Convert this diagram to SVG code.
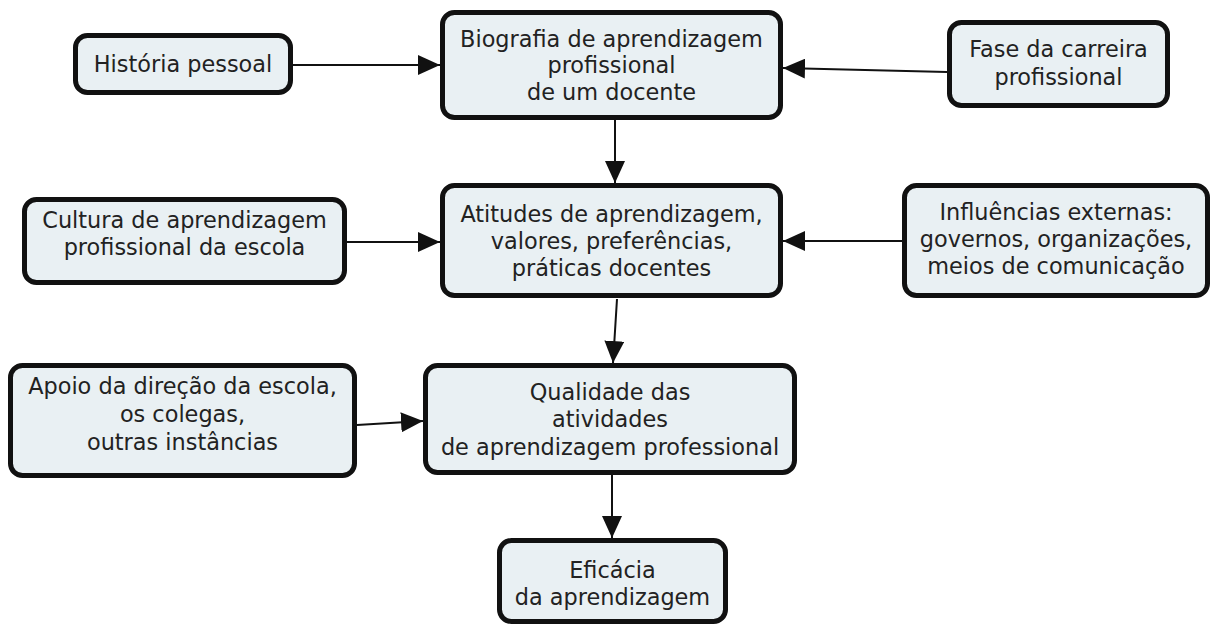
<svg xmlns="http://www.w3.org/2000/svg" width="1217" height="626" viewBox="0 0 1217 626">
  <style>
    .box { fill: #e9f0f3; stroke: #111; stroke-width: 5; }
    .lbl { font-family: "DejaVu Sans", Verdana, sans-serif; font-size: 22.4px; fill: #222; text-anchor: middle; }
    .edge { stroke: #111; stroke-width: 2; fill: none; marker-end: url(#arrow); }
  </style>
  <defs>
    <marker id="arrow" markerUnits="userSpaceOnUse" markerWidth="24" markerHeight="20" refX="22" refY="10" orient="auto">
      <path d="M0,0 L22,10 L0,20 Z" fill="#111"/>
    </marker>
  </defs>
  <rect x="0" y="0" width="1217" height="626" fill="#fff"/>

  <g id="connectors">
    <line class="edge" x1="293" y1="65" x2="440" y2="65"/>
    <line class="edge" x1="947" y1="72" x2="783" y2="68"/>
    <line class="edge" x1="615" y1="120" x2="615" y2="183"/>
    <line class="edge" x1="347" y1="242" x2="440" y2="242"/>
    <line class="edge" x1="902" y1="241" x2="783" y2="241"/>
    <line class="edge" x1="617" y1="299" x2="613" y2="363"/>
    <line class="edge" x1="357" y1="425" x2="423" y2="421"/>
    <line class="edge" x1="612" y1="475" x2="612" y2="538"/>
  </g>

  <g id="historia">
    <rect class="box" x="75.5" y="35.5" width="215" height="57" rx="12"/>
    <text class="lbl" x="183" y="72">História pessoal</text>
  </g>

  <g id="biografia">
    <rect class="box" x="442.5" y="12.5" width="338" height="105" rx="12"/>
    <text class="lbl" x="611.5" y="47">Biografia de aprendizagem</text>
    <text class="lbl" x="611.5" y="73">profissional</text>
    <text class="lbl" x="611.5" y="100">de um docente</text>
  </g>

  <g id="fase">
    <rect class="box" x="949.5" y="22.5" width="218" height="83" rx="12"/>
    <text class="lbl" x="1058.5" y="57">Fase da carreira</text>
    <text class="lbl" x="1058.5" y="85">profissional</text>
  </g>

  <g id="atitudes">
    <rect class="box" x="442.5" y="185.5" width="338" height="110" rx="12"/>
    <text class="lbl" x="611.5" y="222">Atitudes de aprendizagem,</text>
    <text class="lbl" x="611.5" y="249">valores, preferências,</text>
    <text class="lbl" x="611.5" y="276">práticas docentes</text>
  </g>

  <g id="cultura">
    <rect class="box" x="24.5" y="199.5" width="320" height="83" rx="12"/>
    <text class="lbl" x="184.5" y="228">Cultura de aprendizagem</text>
    <text class="lbl" x="184.5" y="255">profissional da escola</text>
  </g>

  <g id="influencias">
    <rect class="box" x="904.5" y="185.5" width="303" height="110" rx="12"/>
    <text class="lbl" x="1056" y="220">Influências externas:</text>
    <text class="lbl" x="1056" y="247">governos, organizações,</text>
    <text class="lbl" x="1056" y="274">meios de comunicação</text>
  </g>

  <g id="apoio">
    <rect class="box" x="10.5" y="365.5" width="344" height="110" rx="12"/>
    <text class="lbl" x="182.5" y="394">Apoio da direção da escola,</text>
    <text class="lbl" x="182.5" y="422">os colegas,</text>
    <text class="lbl" x="182.5" y="450">outras instâncias</text>
  </g>

  <g id="qualidade">
    <rect class="box" x="425.5" y="365.5" width="369" height="107" rx="12"/>
    <text class="lbl" x="610" y="400">Qualidade das</text>
    <text class="lbl" x="610" y="427">atividades</text>
    <text class="lbl" x="610" y="455">de aprendizagem professional</text>
  </g>

  <g id="eficacia">
    <rect class="box" x="499.5" y="540.5" width="226" height="81" rx="12"/>
    <text class="lbl" x="612.5" y="578">Eficácia</text>
    <text class="lbl" x="612.5" y="605">da aprendizagem</text>
  </g>
</svg>
